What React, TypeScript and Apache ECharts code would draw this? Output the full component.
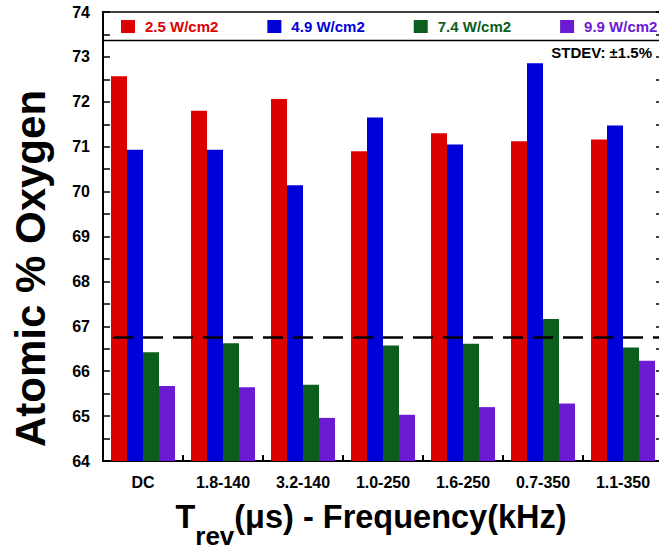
import React, { useEffect, useRef } from "react";
import * as echarts from "echarts";

const categories = ["DC", "1.8-140", "3.2-140", "1.0-250", "1.6-250", "0.7-350", "1.1-350"];
const seriesNames = ["2.5 W/cm2", "4.9 W/cm2", "7.4 W/cm2", "9.9 W/cm2"];
const values25 = [72.57, 71.8, 72.06, 70.9, 71.3, 71.12, 71.16];
const values49 = [70.93, 70.93, 70.14, 71.65, 71.05, 72.86, 71.47];
const values74 = [66.42, 66.62, 65.7, 66.57, 66.61, 67.16, 66.53];
const values99 = [65.67, 65.64, 64.96, 65.03, 65.2, 65.28, 66.23];
const referenceLevel = 66.75;
const yMin = 64;
const yMax = 74;
const yInterval = 1;
const stdevText = "STDEV: ±1.5%";

const colors = ["#dc0000", "#0000d8", "#0b5e1c", "#6b1bd1"];
const FONT = "'Liberation Sans', Arial, Helvetica, sans-serif";

export default function App() {
  const ref = useRef<HTMLDivElement>(null);
  useEffect(() => {
    if (!ref.current) return;
    const chart = echarts.init(ref.current, undefined, { renderer: "svg" });
    const allValues = [values25, values49, values74, values99];
    const series: any[] = allValues.map((vals, i) => ({
      name: seriesNames[i],
      type: "bar",
      data: vals,
      barWidth: 16,
      barGap: "0%",
      itemStyle: { color: colors[i] },
      xAxisIndex: 0,
      yAxisIndex: 0,
    }));
    series[3].markLine = {
      silent: true,
      symbol: "none",
      label: { show: false },
      lineStyle: { color: "#000", width: 2.5, type: [20, 10], dashOffset: 20 },
      data: [{ yAxis: referenceLevel }],
      z: 10,
    };
    const option: any = {
      animation: false,
      textStyle: { fontFamily: FONT },
      grid: {
        left: 103,
        top: 12,
        width: 560,
        height: 449,
        outerBoundsMode: "none",
        containLabel: false,
        show: true,
        borderColor: "#000",
        borderWidth: 1.5,
        backgroundColor: "transparent",
      },
      legend: {
        left: 121,
        top: 19,
        width: 600,
        padding: 0,
        icon: "rect",
        itemWidth: 14,
        itemHeight: 13,
        itemGap: 49,
        selectedMode: false,
        data: seriesNames.map((n, i) => ({
          name: n,
          textStyle: { color: colors[i] },
        })),
        textStyle: {
          fontFamily: FONT,
          fontSize: 15,
          fontWeight: "bold",
          padding: [0, 0, 0, 5],
        },
      },
      xAxis: {
        type: "category",
        data: categories,
        boundaryGap: true,
        axisLine: { show: true, lineStyle: { color: "#000", width: 2 } },
        axisTick: { show: true, inside: true, length: 6, lineStyle: { color: "#000", width: 2 } },
        axisLabel: {
          color: "#000",
          fontFamily: FONT,
          fontSize: 16,
          fontWeight: "bold",
          margin: 13,
          interval: 0,
        },
        name: "{a|T}{b|rev}{a|(μs) - Frequency(kHz)}",
        nameLocation: "middle",
        nameGap: 39,
        nameTextStyle: {
          padding: [0, 24, 0, 0],
          rich: {
            a: {
              fontFamily: FONT,
              fontSize: 32.5,
              fontWeight: "bold",
              color: "#000",
              lineHeight: 36,
              verticalAlign: "top",
            },
            b: {
              fontFamily: FONT,
              fontSize: 26,
              fontWeight: "bold",
              color: "#000",
              lineHeight: 28,
              verticalAlign: "top",
              padding: [23, 0, 0, 0],
            },
          },
        },
      },
      yAxis: [
        {
          type: "value",
          min: yMin,
          max: yMax,
          interval: yInterval,
          position: "left",
          splitLine: { show: false },
          axisLine: { show: true, lineStyle: { color: "#000", width: 2 } },
          axisTick: { show: true, inside: true, length: 7, lineStyle: { color: "#000", width: 1.5 } },
          minorTick: { show: true, splitNumber: 2, length: 7, lineStyle: { color: "#000", width: 1.5 } },
          axisLabel: {
            color: "#000",
            fontFamily: FONT,
            fontSize: 16,
            fontWeight: "bold",
            margin: 13,
          },
          name: "Atomic % Oxygen",
          nameLocation: "middle",
          nameGap: 52,
          nameTextStyle: {
            fontFamily: FONT,
            fontSize: 42,
            fontWeight: "bold",
            color: "#000",
            padding: [0, 64, 0, 0],
          },
        },
        {
          type: "value",
          min: yMin,
          max: yMax,
          interval: yInterval,
          position: "right",
          splitLine: { show: false },
          axisLine: { show: true, lineStyle: { color: "#000", width: 2 } },
          axisTick: { show: true, inside: true, length: 7, lineStyle: { color: "#000", width: 1.5 } },
          minorTick: { show: true, splitNumber: 2, length: 7, lineStyle: { color: "#000", width: 1.5 } },
          axisLabel: { show: false },
        },
      ],
      graphic: [
        {
          type: "line",
          shape: { x1: 103, y1: 40.5, x2: 663, y2: 40.5 },
          style: { stroke: "#000", lineWidth: 1.5 },
          z: 100,
        },
        {
          type: "text",
          right: 7,
          top: 45,
          style: {
            text: stdevText,
            fill: "#000",
            font: `bold 15px ${FONT}`,
          },
          z: 100,
        },
      ],
      series,
    };
    chart.setOption(option);
    return () => chart.dispose();
  }, []);
  return (
    <div
      ref={ref}
      style={{ position: "fixed", left: 0, top: 0, width: 659, height: 552, background: "#fff" }}
    />
  );
}
